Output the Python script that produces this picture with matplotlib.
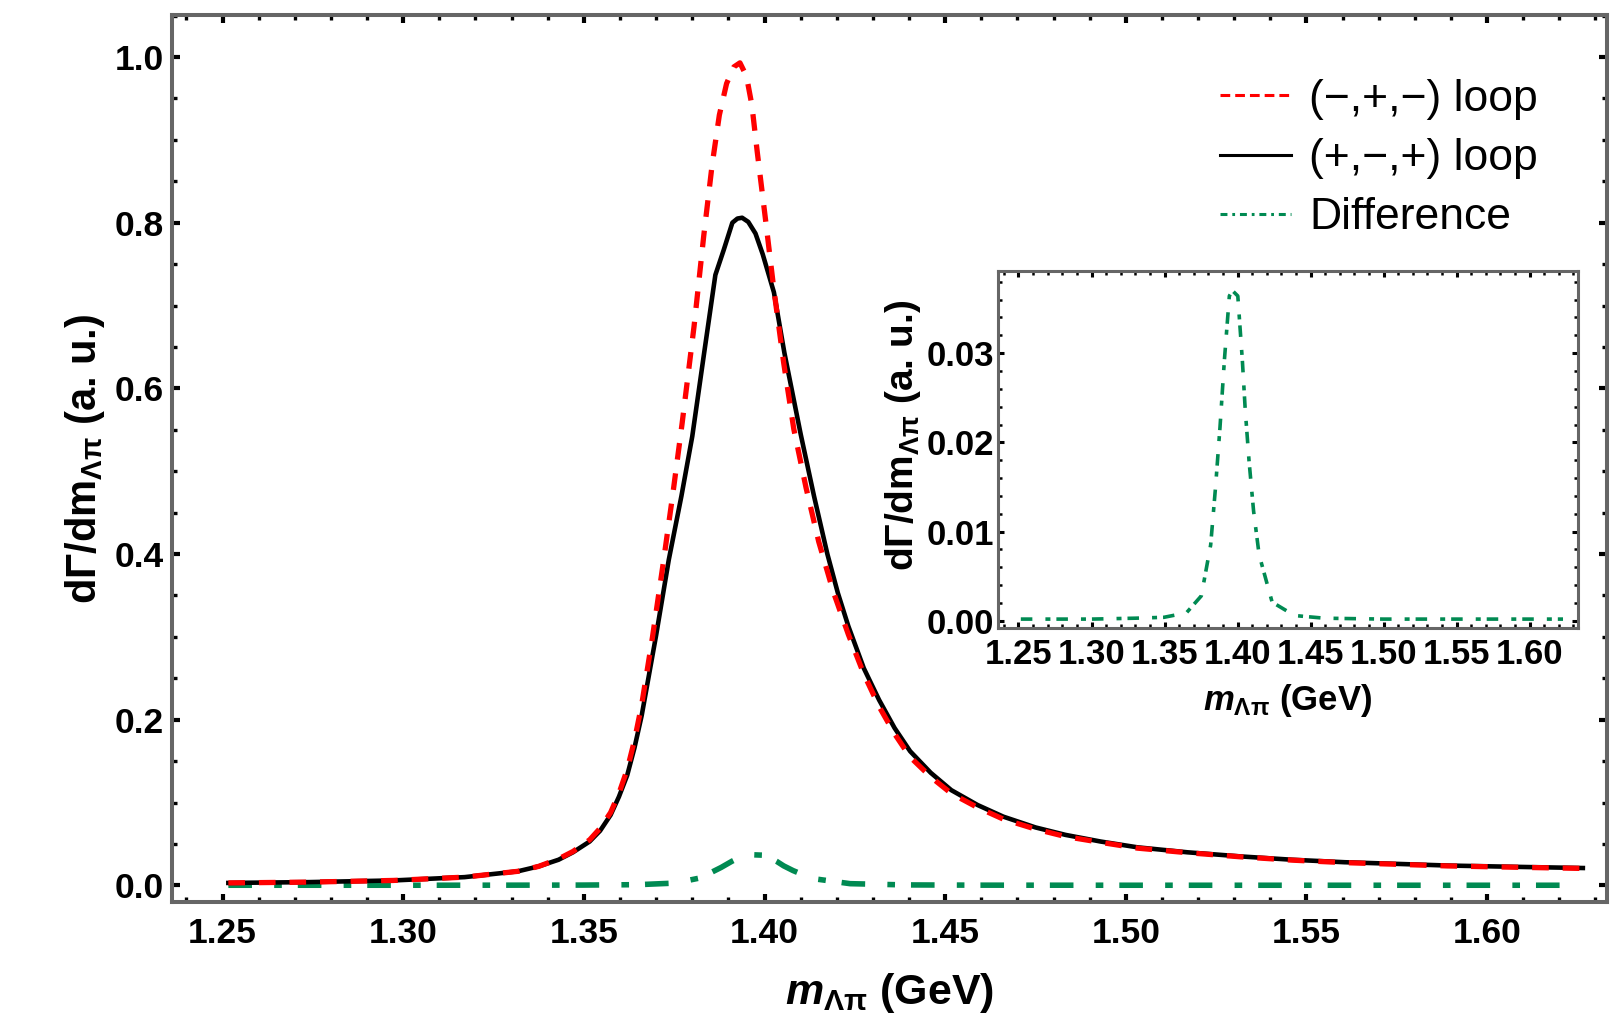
import matplotlib
matplotlib.use('Agg')
import matplotlib.pyplot as plt
from matplotlib.lines import Line2D
from matplotlib.ticker import MultipleLocator, FormatStrFormatter

plt.rcParams['font.family'] = ['Liberation Sans', 'DejaVu Sans']
plt.rcParams['mathtext.fontset'] = 'custom'
plt.rcParams['mathtext.rm'] = 'Liberation Sans:bold'
plt.rcParams['mathtext.it'] = 'Liberation Sans:italic:bold'
plt.rcParams['mathtext.bf'] = 'Liberation Sans:bold'
plt.rcParams['lines.scale_dashes'] = False

# (-,+,-) loop
x_mpm = [1.2516, 1.274, 1.2973, 1.317, 1.3317, 1.3375, 1.343, 1.347, 1.3516, 1.3545,
         1.3574, 1.3597, 1.362, 1.364, 1.366, 1.369, 1.372, 1.3747, 1.3772, 1.3805,
         1.3832, 1.3855, 1.3875, 1.3895, 1.3915, 1.3932, 1.395, 1.3965, 1.398, 1.4003,
         1.4026, 1.4053, 1.4081, 1.4115, 1.415, 1.419, 1.4232, 1.4275, 1.4317, 1.436,
         1.4403, 1.446, 1.4517, 1.459, 1.4661, 1.475, 1.4833, 1.493, 1.5032, 1.517,
         1.5318, 1.546, 1.5605, 1.575, 1.589, 1.607, 1.6265]
y_mpm = [0.003, 0.004, 0.006, 0.010, 0.017, 0.023, 0.032, 0.041, 0.055, 0.069,
         0.088, 0.111, 0.140, 0.175, 0.218, 0.30, 0.39, 0.475, 0.558, 0.675,
         0.785, 0.87, 0.93, 0.968, 0.988, 0.993, 0.977, 0.942, 0.885, 0.803,
         0.719, 0.631, 0.551, 0.48, 0.415, 0.355, 0.303, 0.255, 0.216, 0.183,
         0.155, 0.131, 0.111, 0.094, 0.080, 0.068, 0.059, 0.052, 0.045, 0.0395,
         0.0345, 0.0305, 0.0275, 0.0255, 0.0235, 0.022, 0.0205]

# (+,-,+) loop
x_pmp = [1.2516, 1.274, 1.2973, 1.317, 1.3317, 1.3375, 1.343, 1.347, 1.3516, 1.3545,
         1.3574, 1.3597, 1.362, 1.364, 1.366, 1.370, 1.3735, 1.377, 1.380, 1.3832,
         1.3864, 1.3887, 1.3911, 1.3925, 1.3938, 1.3955, 1.3975, 1.3995, 1.4026, 1.4055,
         1.410, 1.4137, 1.4174, 1.4203, 1.4232, 1.4275, 1.4317, 1.436, 1.4403, 1.446,
         1.4517, 1.459, 1.4661, 1.475, 1.4833, 1.493, 1.5032, 1.517, 1.5318, 1.546,
         1.5605, 1.575, 1.589, 1.607, 1.6265]
y_pmp = [0.003, 0.004, 0.006, 0.010, 0.017, 0.023, 0.031, 0.040, 0.053, 0.066,
         0.085, 0.107, 0.133, 0.166, 0.205, 0.302, 0.393, 0.47, 0.542, 0.64,
         0.737, 0.767, 0.80, 0.805, 0.806, 0.801, 0.787, 0.762, 0.716, 0.643,
         0.545, 0.47, 0.40, 0.353, 0.313, 0.262, 0.224, 0.19, 0.162, 0.136,
         0.115, 0.097, 0.083, 0.070, 0.061, 0.053, 0.046, 0.040, 0.035, 0.031,
         0.028, 0.026, 0.024, 0.0225, 0.021]

# Difference
x_diff = [1.2516, 1.30, 1.33, 1.3496, 1.365, 1.3752, 1.3816, 1.3849, 1.388, 1.391,
          1.3944, 1.3965, 1.4002, 1.4033, 1.4053, 1.4079, 1.411, 1.4148, 1.4237, 1.439,
          1.4595, 1.50, 1.55, 1.6229]
y_diff = [0.0002, 0.0002, 0.0003, 0.0004, 0.0009, 0.0028, 0.0085, 0.0149, 0.0217, 0.0292,
          0.0364, 0.0370, 0.0364, 0.0292, 0.0236, 0.0179, 0.0123, 0.0074, 0.0021, 0.0006,
          0.0003, 0.0002, 0.0002, 0.0002]

x_ticks = [1.25, 1.30, 1.35, 1.40, 1.45, 1.50, 1.55, 1.60]
y_ticks = [0.0, 0.2, 0.4, 0.6, 0.8, 1.0]
inset_y_ticks = [0.00, 0.01, 0.02, 0.03]

red = '#ff0000'
green = '#008a52'
frame = '#666666'

fig = plt.figure(figsize=(16.21, 10.23), dpi=100)
ax = fig.add_axes([0.1061, 0.1183, 0.8853, 0.8670])

ax.plot(x_diff, y_diff, color=green, lw=4.0, dashes=(17, 16, 5.5, 11.5), zorder=2)
ax.plot(x_pmp, y_pmp, color='black', lw=3.3, zorder=3)
ax.plot(x_mpm, y_mpm, color=red, lw=3.8, dashes=(12, 10), zorder=4)

ax.set_xlim(1.236, 1.6332)
ax.set_ylim(-0.020, 1.0507)
ax.set_xticks(x_ticks)
ax.set_yticks(y_ticks)
ax.xaxis.set_minor_locator(MultipleLocator(0.01))
ax.yaxis.set_minor_locator(MultipleLocator(0.05))
ax.xaxis.set_major_formatter(FormatStrFormatter('%.2f'))
ax.yaxis.set_major_formatter(FormatStrFormatter('%.1f'))
ax.tick_params(which='both', direction='in', top=True, right=True, color='black')
ax.tick_params(which='major', length=5.8, width=3.0, labelsize=25.5)
ax.tick_params(axis='x', which='major', pad=11)
ax.tick_params(axis='y', which='major', pad=6)
ax.tick_params(which='minor', length=3.4, width=2.4)
for lab in ax.get_xticklabels() + ax.get_yticklabels():
    lab.set_fontweight('bold')
for sp in ax.spines.values():
    sp.set_color(frame)
    sp.set_linewidth(2.9)

ax.set_xlabel(r'$m_{\mathbf{Λπ}}$ (GeV)', fontsize=31, fontweight='bold')
ax.xaxis.set_label_coords(0.5, -0.078)
ax.set_ylabel(r'dΓ/dm$_{\mathbf{Λπ}}$ (a. u.)', fontsize=30, fontweight='bold')
ax.yaxis.set_label_coords(-0.045, 0.5)

handles = [
    Line2D([0], [0], color=red, lw=2.2, dashes=(7, 3.6)),
    Line2D([0], [0], color='black', lw=2.2),
    Line2D([0], [0], color=green, lw=2.2, dashes=(5, 3.5, 2, 3.5)),
]
labels = ['(\u2212,+,\u2212) loop', '(+,\u2212,+) loop', 'Difference']
ax.legend(handles, labels, loc='upper left', bbox_to_anchor=(0.730, 0.928),
          frameon=False, fontsize=32, handlelength=1.6, handletextpad=0.42,
          labelspacing=0.41, borderpad=0, borderaxespad=0)

# inset
axin = fig.add_axes([0.6157, 0.3861, 0.3578, 0.3490])
axin.plot(x_diff, y_diff, color=green, lw=2.6, dashes=(8.3, 9.4, 3.6, 4.3))
axin.set_xlim(1.236, 1.6332)
axin.set_ylim(-0.0008, 0.0392)
axin.set_xticks(x_ticks)
axin.set_yticks(inset_y_ticks)
axin.xaxis.set_minor_locator(MultipleLocator(0.01))
axin.yaxis.set_minor_locator(MultipleLocator(0.002))
axin.xaxis.set_major_formatter(FormatStrFormatter('%.2f'))
axin.yaxis.set_major_formatter(FormatStrFormatter('%.2f'))
axin.tick_params(which='both', direction='in', top=True, right=True, color='black')
axin.tick_params(which='major', length=4, width=2.2, labelsize=25)
axin.tick_params(axis='x', which='major', pad=7)
axin.tick_params(axis='y', which='major', pad=3)
axin.tick_params(which='minor', length=2.6, width=1.8)
for lab in axin.get_xticklabels() + axin.get_yticklabels():
    lab.set_fontweight('bold')
for sp in axin.spines.values():
    sp.set_color(frame)
    sp.set_linewidth(2.2)
axin.set_xlabel(r'$m_{\mathbf{Λπ}}$ (GeV)', fontsize=25, fontweight='bold')
axin.xaxis.set_label_coords(0.5, -0.152)
axin.set_ylabel(r'dΓ/dm$_{\mathbf{Λπ}}$ (a. u.)', fontsize=28, fontweight='bold')
axin.yaxis.set_label_coords(-0.129, 0.54)

fig.savefig('out.png', dpi=100)
